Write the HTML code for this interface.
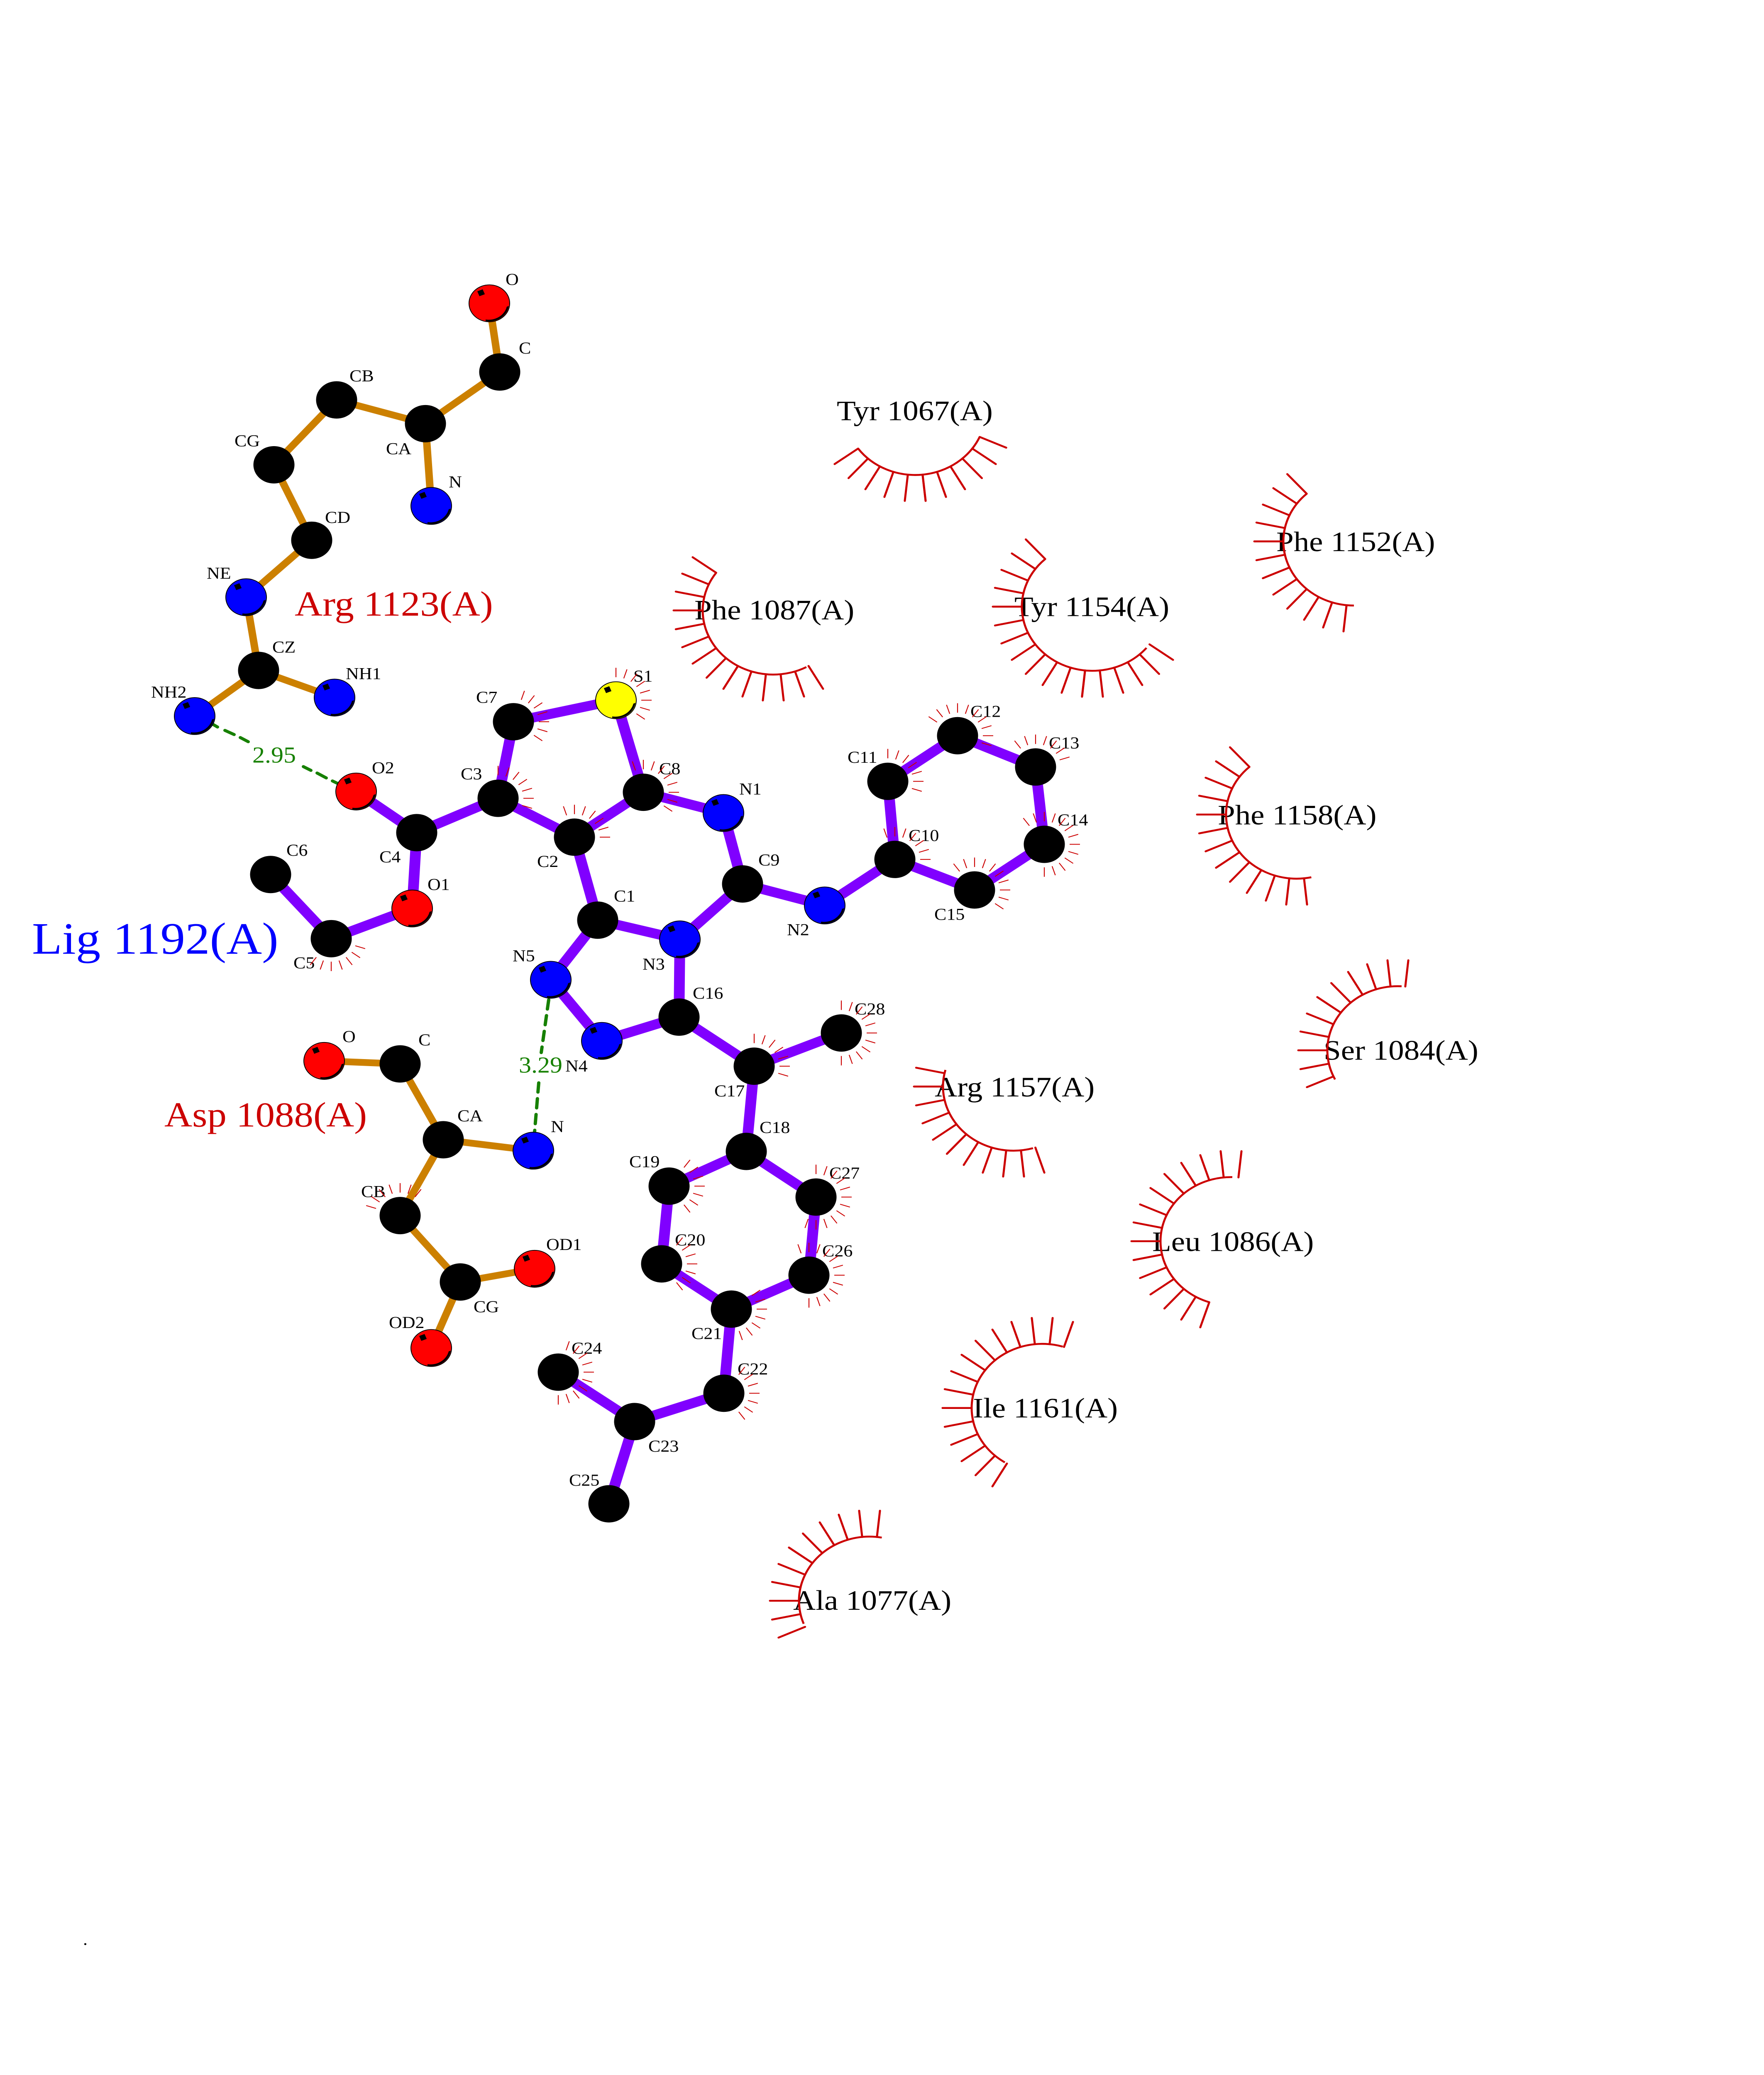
<!DOCTYPE html>
<html>
<head>
<meta charset="utf-8">
<title>Lig 1192(A) interactions</title>
<style>
html,body{margin:0;padding:0;background:#fff;width:100%;height:100%;overflow:hidden}
svg{display:block;position:fixed;left:0;top:0;width:100vw;height:100vh;overflow:hidden}
text{font-family:"Liberation Serif",serif;font-size:44px;fill:#000}
.r{font-size:75px}
.t{font-size:93px;fill:#cc0000}
.g{font-size:60px;fill:#168000}
</style>
</head>
<body>
<svg xmlns="http://www.w3.org/2000/svg" viewBox="0 0 4250 5500" preserveAspectRatio="none">
<rect width="4250" height="5500" fill="#fff"/>
<defs>
<line id="h1" x1="61" x2="86" y1="0" y2="0" stroke="#cc0000" stroke-width="2.2"/>
<g id="h2"><use href="#h1"/><use href="#h1" transform="rotate(18)"/></g>
<g id="h3"><use href="#h2"/><use href="#h1" transform="rotate(36)"/></g>
<g id="h4"><use href="#h2"/><use href="#h2" transform="rotate(36)"/></g>
<g id="h5"><use href="#h4"/><use href="#h1" transform="rotate(72)"/></g>
<g id="h6"><use href="#h4"/><use href="#h2" transform="rotate(72)"/></g>
<g id="h7"><use href="#h4"/><use href="#h3" transform="rotate(72)"/></g>
<line id="f1" x1="170" x2="240" y1="0" y2="0" stroke="#cc0000" stroke-width="5" stroke-linecap="round"/>
<g id="f2"><use href="#f1"/><use href="#f1" transform="rotate(12)"/></g>
<g id="f3"><use href="#f2"/><use href="#f1" transform="rotate(24)"/></g>
<g id="f4"><use href="#f2"/><use href="#f2" transform="rotate(24)"/></g>
<g id="f6"><use href="#f3"/><use href="#f3" transform="rotate(36)"/></g>
<g id="f11"><use href="#f6"/><use href="#f6" transform="rotate(60)"/></g>
<circle id="c" r="49.5" fill="#000"/>
<g id="m">
<path d="M47 7A48 48 0 0 1 -9 47L-9 43A45 45 0 0 0 42 9Z" fill="#000"/>
<rect x="-7" y="-7" width="14" height="14" fill="#000" transform="translate(-20 -28) rotate(-22)"/>
</g>
</defs>

<!-- Bonds -->
<path fill="none" stroke="#8000ff" stroke-width="26" d="M1200 2116L1237 1913L1484 1856L1550 2100L1384 2219L1200 2116L1004 2207L858 2098M1004 2207L993 2408L798 2488L652 2318M1384 2219L1440 2439L1638 2490L1636 2696L1450 2759L1327 2597L1440 2439M1638 2490L1789 2343L1743 2155L1550 2100M1789 2343L1987 2400L2156 2278L2139 2071L2307 1950L2495 2033L2516 2238L2348 2359L2156 2278M1636 2696L1817 2826L2027 2738M1817 2826L1798 3052L1612 3144L1594 3350L1762 3470L1949 3380L1966 3173L1798 3052M1762 3470L1744 3693L1529 3768L1345 3637M1529 3768L1467 3986"/>
<path fill="none" stroke="#cc8000" stroke-width="18" d="M1179 804L1204 986L1025 1123L1039 1341M1025 1123L811 1060L660 1232L751 1432L593 1583L623 1777L806 1849M623 1777L469 1898M781 2812L964 2820L1068 3021L1285 3050M1068 3021L964 3222L1109 3398L1288 3363M1109 3398L1039 3573"/>

<!-- Hydrogen bonds -->
<g stroke="#168000" stroke-width="8" stroke-linecap="round" fill="none">
<path d="M510 1918L524 1927M542 1936L564 1947M579 1955L598 1966M731 2032L749 2042M764 2049L786 2062M801 2070L818 2079"/>
<path d="M1322 2650L1304 2790M1298 2870L1288 3000" stroke-dasharray="25 17"/>
</g>

<!-- Atoms -->
<g>
<use href="#c" x="1237" y="1913"/><use href="#c" x="1200" y="2116"/><use href="#c" x="1384" y="2219"/><use href="#c" x="1550" y="2100"/>
<use href="#c" x="1789" y="2343"/><use href="#c" x="1440" y="2439"/><use href="#c" x="2307" y="1950"/><use href="#c" x="2495" y="2033"/>
<use href="#c" x="2139" y="2071"/><use href="#c" x="2516" y="2238"/><use href="#c" x="2156" y="2278"/><use href="#c" x="2348" y="2359"/>
<use href="#c" x="1636" y="2696"/><use href="#c" x="1817" y="2826"/><use href="#c" x="2027" y="2738"/><use href="#c" x="1798" y="3052"/>
<use href="#c" x="1612" y="3144"/><use href="#c" x="1966" y="3173"/><use href="#c" x="1594" y="3350"/><use href="#c" x="1949" y="3380"/>
<use href="#c" x="1762" y="3470"/><use href="#c" x="1345" y="3637"/><use href="#c" x="1744" y="3693"/><use href="#c" x="1529" y="3768"/>
<use href="#c" x="1467" y="3986"/><use href="#c" x="1004" y="2207"/><use href="#c" x="652" y="2318"/><use href="#c" x="798" y="2488"/>
<use href="#c" x="1204" y="986"/><use href="#c" x="1025" y="1123"/><use href="#c" x="811" y="1060"/><use href="#c" x="660" y="1232"/>
<use href="#c" x="751" y="1432"/><use href="#c" x="623" y="1777"/><use href="#c" x="964" y="2820"/><use href="#c" x="1068" y="3021"/>
<use href="#c" x="964" y="3222"/><use href="#c" x="1109" y="3398"/>
</g>
<g stroke="#000" stroke-width="2">
<circle cx="1484" cy="1856" r="49" fill="#ffff00"/>
<circle cx="1743" cy="2155" r="49" fill="#0000ff"/><circle cx="1638" cy="2490" r="49" fill="#0000ff"/><circle cx="1987" cy="2400" r="49" fill="#0000ff"/>
<circle cx="1327" cy="2597" r="49" fill="#0000ff"/><circle cx="1450" cy="2759" r="49" fill="#0000ff"/><circle cx="1039" cy="1341" r="49" fill="#0000ff"/>
<circle cx="593" cy="1583" r="49" fill="#0000ff"/><circle cx="806" cy="1849" r="49" fill="#0000ff"/><circle cx="469" cy="1898" r="49" fill="#0000ff"/>
<circle cx="1285" cy="3050" r="49" fill="#0000ff"/>
<circle cx="858" cy="2098" r="49" fill="#ff0000"/><circle cx="993" cy="2408" r="49" fill="#ff0000"/><circle cx="1179" cy="804" r="49" fill="#ff0000"/>
<circle cx="781" cy="2812" r="49" fill="#ff0000"/><circle cx="1288" cy="3363" r="49" fill="#ff0000"/><circle cx="1039" cy="3573" r="49" fill="#ff0000"/>
</g>
<use href="#m" x="1484" y="1856"/><use href="#m" x="1743" y="2155"/><use href="#m" x="1638" y="2490"/><use href="#m" x="1987" y="2400"/>
<use href="#m" x="1327" y="2597"/><use href="#m" x="1450" y="2759"/><use href="#m" x="1039" y="1341"/><use href="#m" x="593" y="1583"/>
<use href="#m" x="806" y="1849"/><use href="#m" x="469" y="1898"/><use href="#m" x="1285" y="3050"/><use href="#m" x="858" y="2098"/>
<use href="#m" x="993" y="2408"/><use href="#m" x="1179" y="804"/><use href="#m" x="781" y="2812"/><use href="#m" x="1288" y="3363"/><use href="#m" x="1039" y="3573"/>

<!-- Residue labels -->
<text class="r" x="2016" y="1114">Tyr 1067(A)</text>
<text class="r" x="1673" y="1642">Phe 1087(A)</text>
<text class="r" x="2444" y="1633">Tyr 1154(A)</text>
<text class="r" x="3075" y="1461">Phe 1152(A)</text>
<text class="r" x="2934" y="2185">Phe 1158(A)</text>
<text class="r" x="2252" y="2906">Arg 1157(A)</text>
<text class="r" x="3189" y="2809">Ser 1084(A)</text>
<text class="r" x="2776" y="3316">Leu 1086(A)</text>
<text class="r" x="2344" y="3757">Ile 1161(A)</text>
<text class="r" x="1911" y="4267">Ala 1077(A)</text>
<text class="t" x="710" y="1632">Arg 1123(A)</text>
<text class="t" x="396" y="2986">Asp 1088(A)</text>
<text x="77" y="2528" style="font-size:119px;fill:#0000ff">Lig 1192(A)</text>
<text x="200" y="5155" style="font-size:44px">.</text>

<!-- Atom labels -->
<text x="1526" y="1807">S1</text><text x="1588" y="2052">C8</text><text x="1147" y="1863">C7</text><text x="1110" y="2066">C3</text>
<text x="1294" y="2298">C2</text><text x="1781" y="2106">N1</text><text x="1479" y="2390">C1</text><text x="1827" y="2294">C9</text>
<text x="2338" y="1900">C12</text><text x="2527" y="1984">C13</text><text x="2042" y="2022">C11</text><text x="2548" y="2188">C14</text>
<text x="2189" y="2229">C10</text><text x="2251" y="2438">C15</text><text x="1896" y="2479">N2</text><text x="1669" y="2647">C16</text>
<text x="2059" y="2689">C28</text><text x="1721" y="2906">C17</text><text x="1830" y="3003">C18</text><text x="1516" y="3094">C19</text>
<text x="1998" y="3124">C27</text><text x="1626" y="3301">C20</text><text x="1981" y="3330">C26</text><text x="1666" y="3549">C21</text>
<text x="1377" y="3588">C24</text><text x="1777" y="3643">C22</text><text x="1562" y="3848">C23</text><text x="1371" y="3938">C25</text>
<text x="690" y="2268">C6</text><text x="914" y="2286">C4</text><text x="1030" y="2359">O1</text><text x="707" y="2567">C5</text>
<text x="896" y="2050">O2</text><text x="1235" y="2548">N5</text><text x="1362" y="2840">N4</text><text x="1548" y="2570">N3</text>
<text x="1218" y="755">O</text><text x="1250" y="937">C</text><text x="842" y="1011">CB</text><text x="930" y="1204">CA</text>
<text x="1081" y="1292">N</text><text x="565" y="1183">CG</text><text x="783" y="1386">CD</text><text x="498" y="1534">NE</text>
<text x="656" y="1730">CZ</text><text x="833" y="1800">NH1</text><text x="364" y="1849">NH2</text>
<text x="825" y="2762">O</text><text x="1008" y="2771">C</text><text x="1102" y="2972">CA</text><text x="870" y="3173">CB</text>
<text x="1327" y="3001">N</text><text x="1141" y="3478">CG</text><text x="1316" y="3313">OD1</text><text x="937" y="3520">OD2</text>
<text class="g" x="608" y="2021">2.95</text>
<text class="g" x="1250" y="2843">3.29</text>

<!-- Residue fans -->
<g fill="none" stroke="#cc0000" stroke-width="5">
<circle r="170" pathLength="360" stroke-dasharray="120 999" transform="translate(2205 1089) rotate(24)"/>
<circle r="170" pathLength="360" stroke-dasharray="154 999" transform="translate(1863 1618) rotate(62)"/>
<circle r="170" pathLength="360" stroke-dasharray="188 999" transform="translate(2632 1608) rotate(40)"/>
<circle r="170" pathLength="360" stroke-dasharray="138 999" transform="translate(3262 1435) rotate(90)"/>
<circle r="170" pathLength="360" stroke-dasharray="150 999" transform="translate(3124 2159) rotate(78)"/>
<circle r="170" pathLength="360" stroke-dasharray="121 999" transform="translate(2442 2880) rotate(74)"/>
<circle r="170" pathLength="360" stroke-dasharray="120 999" transform="translate(3368 2784) rotate(153)"/>
<circle r="170" pathLength="360" stroke-dasharray="163 999" transform="translate(2966 3290) rotate(108)"/>
<circle r="170" pathLength="360" stroke-dasharray="165 999" transform="translate(2511 3732) rotate(122)"/>
<circle r="170" pathLength="360" stroke-dasharray="121 999" transform="translate(2095 4243) rotate(159)"/>
</g>
<g transform="translate(2205 1089)"><use href="#f11" transform="rotate(24)"/></g>
<g transform="translate(1863 1618)"><use href="#f11" transform="rotate(60)"/><use href="#f3" transform="rotate(192)"/></g>
<g transform="translate(2632 1608)"><use href="#f11" transform="rotate(36)"/><use href="#f6" transform="rotate(168)"/></g>
<g transform="translate(3262 1435)"><use href="#f11" transform="rotate(96)"/><use href="#f1" transform="rotate(228)"/></g>
<g transform="translate(3124 2159)"><use href="#f11" transform="rotate(84)"/><use href="#f2" transform="rotate(216)"/></g>
<g transform="translate(2442 2880)"><use href="#f11" transform="rotate(72)"/></g>
<g transform="translate(3368 2784)"><use href="#f11" transform="rotate(156)"/></g>
<g transform="translate(2966 3290)"><use href="#f11" transform="rotate(108)"/><use href="#f4" transform="rotate(240)"/></g>
<g transform="translate(2511 3732)"><use href="#f11" transform="rotate(120)"/><use href="#f4" transform="rotate(252)"/></g>
<g transform="translate(2095 4243)"><use href="#f11" transform="rotate(156)"/></g>

<!-- Atom hydrophobic hairs -->
<g transform="translate(1484 1856)"><use href="#h7" transform="rotate(-90)"/><use href="#h1" transform="rotate(36)"/></g>
<g transform="translate(1237 1913)"><use href="#h7" transform="rotate(-72)"/></g>
<g transform="translate(1200 2116)"><use href="#h7" transform="rotate(-90)"/></g>
<g transform="translate(1384 2219)"><use href="#h7" transform="rotate(-108)"/></g>
<g transform="translate(1550 2100)"><use href="#h7" transform="rotate(-108)"/><use href="#h2" transform="rotate(18)"/></g>
<g transform="translate(2139 2071)"><use href="#h7" transform="rotate(-90)"/></g>
<g transform="translate(2307 1950)"><use href="#h7" transform="rotate(-144)"/><use href="#h3" transform="rotate(-18)"/></g>
<g transform="translate(2495 2033)"><use href="#h7" transform="rotate(-126)"/></g>
<g transform="translate(2516 2238)"><use href="#h7" transform="rotate(-126)"/><use href="#h6" transform="rotate(0)"/></g>
<g transform="translate(2156 2278)"><use href="#h7" transform="rotate(-108)"/></g>
<g transform="translate(2348 2359)"><use href="#h7" transform="rotate(-126)"/><use href="#h3" transform="rotate(0)"/></g>
<g transform="translate(1817 2826)"><use href="#h7" transform="rotate(-90)"/></g>
<g transform="translate(2027 2738)"><use href="#h7" transform="rotate(-90)"/><use href="#h4" transform="rotate(36)"/></g>
<g transform="translate(1612 3144)"><use href="#h7" transform="rotate(-54)"/></g>
<g transform="translate(1966 3173)"><use href="#h7" transform="rotate(-90)"/><use href="#h5" transform="rotate(36)"/></g>
<g transform="translate(1594 3350)"><use href="#h7" transform="rotate(-54)"/></g>
<g transform="translate(1949 3380)"><use href="#h7" transform="rotate(-108)"/><use href="#h5" transform="rotate(18)"/></g>
<g transform="translate(1762 3470)"><use href="#h7" transform="rotate(-36)"/></g>
<g transform="translate(1345 3637)"><use href="#h7" transform="rotate(-72)"/><use href="#h3" transform="rotate(54)"/></g>
<g transform="translate(1744 3693)"><use href="#h7" transform="rotate(-54)"/></g>
<g transform="translate(798 2488)"><use href="#h7" transform="rotate(18)"/></g>
<g transform="translate(964 3222)"><use href="#h7" transform="rotate(-162)"/></g>
</svg>
</body>
</html>
